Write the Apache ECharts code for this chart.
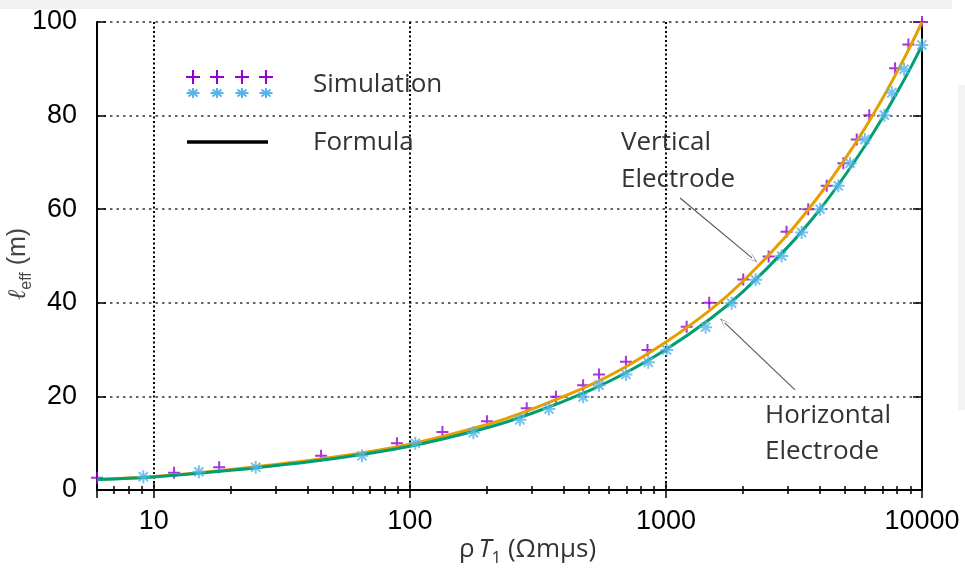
<!DOCTYPE html>
<html>
<head>
<meta charset="utf-8">
<script src="https://cdn.jsdelivr.net/npm/echarts@6/dist/echarts.min.js"></script>
<style>
  html, body { margin: 0; padding: 0; background: #ffffff; }
  #chart { width: 965px; height: 572px; }
</style>
</head>
<body>
<div id="chart"></div>
<script>
// Simulated effective length, vertical electrode (ρT1 in Ωmμs, ℓeff in m)
const verticalSimX = [6, 12, 18, 45, 89, 134, 200, 286, 372, 475, 548, 698, 847, 1205, 1476, 2004, 2518, 2958, 3595, 4245, 4930, 5560, 6225, 7850, 8850, 10000];
const verticalSimY = [2.6, 3.7, 4.85, 7.3, 10, 12.4, 14.7, 17.45, 19.9, 22.4, 24.7, 27.4, 29.9, 34.9, 40, 45, 49.9, 55.2, 60, 65, 69.8, 74.9, 80.1, 90.1, 95.2, 100];

// Simulated effective length, horizontal electrode
const horizontalSimX = [9.1, 15, 25, 65, 105, 177, 269, 349, 475, 548, 698, 853, 1007, 1429, 1806, 2240, 2831, 3390, 4000, 4710, 5240, 5985, 7130, 7625, 8510, 9980];
const horizontalSimY = [2.85, 3.9, 4.85, 7.3, 10, 12.25, 15, 17.3, 19.9, 22.4, 24.7, 27.3, 29.9, 34.8, 39.9, 44.9, 50, 55, 60, 65, 69.8, 74.9, 80.1, 84.9, 89.9, 95.1];

// Formula curves
const formulaX = [6, 10, 20, 50, 100, 200, 300, 500, 700, 1000, 1500, 2000, 3000, 4000, 5000, 6000, 7000, 8000, 9000, 10000];
const verticalFormulaY = [2.3, 2.9, 4.4, 7.0, 9.8, 14.0, 17.3, 22.3, 26.4, 31.6, 38.6, 44.6, 54.7, 63.2, 70.7, 77.4, 83.6, 89.4, 94.8, 100];
const horizontalFormulaY = [2.25, 2.8, 4.2, 6.7, 9.35, 13.3, 16.4, 21.2, 25.1, 30.0, 36.7, 42.4, 52.0, 60.0, 67.2, 73.6, 79.5, 85.0, 90.1, 95];

// Axis ranges and tick labels
const xRange = [6, 10000];
const xTickLabels = ['10', '100', '1000', '10000'];
const yRange = [0, 100];
const yStep = 20;

// Annotation arrows (data coordinates: from label toward curve)
const verticalArrow = [[1135, 62.4], [2168, 49.6]];
const horizontalArrow = [[3192, 21.4], [1698, 35.7]];

const PURPLE = '#9400D3';
const BLUE = '#56B4E9';
const ORANGE = '#E69F00';
const GREEN = '#009E73';
const TEXT_FONT = 'Open Sans';

const plusPath = 'path://M0,6L12,6M6,0L6,12';
const starPath = 'path://M0,6L12,6M6,0L6,12M1.8,1.8L10.2,10.2M10.2,1.8L1.8,10.2';
const chevron = 'path://M0,12L5,0L10,12L5,1.6Z';

const zip = (xs, ys) => xs.map((x, i) => [x, ys[i]]);

function isDecade(v) {
  const l = Math.log10(v);
  return Math.abs(l - Math.round(l)) < 1e-6;
}

const chart = echarts.init(document.getElementById('chart'), null, { renderer: 'canvas' });

const tickLabelStyle = { fontFamily: 'Liberation Sans', fontSize: 27, color: '#000' };
const axisLineStyle = { show: true, lineStyle: { color: '#000', width: 2 } };

// Legend glyphs built from short strokes
function seg(x1, y1, x2, y2, color) {
  return { type: 'line', shape: { x1, y1, x2, y2 }, style: { stroke: color, lineWidth: 2 }, z: 100 };
}
function plusGlyph(cx, cy, r, color) {
  return [seg(cx - r, cy, cx + r, cy, color), seg(cx, cy - r, cx, cy + r, color)];
}
function starGlyph(cx, cy, rx, ry, color) {
  const d = 0.7;
  return [
    seg(cx - rx, cy, cx + rx, cy, color),
    seg(cx, cy - ry, cx, cy + ry, color),
    seg(cx - rx * d, cy - ry * d, cx + rx * d, cy + ry * d, color),
    seg(cx + rx * d, cy - ry * d, cx - rx * d, cy + ry * d, color)
  ];
}
const legendXs = [193, 217, 242, 266];
const legendItems = [];
legendXs.forEach(x => {
  legendItems.push(...plusGlyph(x, 77, 7, PURPLE));
  legendItems.push(...starGlyph(x, 93, 6.5, 5, BLUE));
});

const option = {
  animation: false,
  backgroundColor: '#ffffff',
  grid: { left: 97, right: 43, top: 22, bottom: 82, containLabel: false, outerBoundsMode: 'none' },
  xAxis: [
    {
      type: 'log', logBase: 10, min: xRange[0], max: xRange[1], position: 'bottom',
      name: '{r|ρ}{i|T}{s|1}{r| (Ωmμs)}',
      nameLocation: 'middle', nameGap: 47, nameMoveOverlap: false,
      nameTextStyle: {
        padding: [0, 0, 0, 36],
        rich: {
          r: { fontFamily: TEXT_FONT, fontSize: 26, color: '#333' },
          i: { fontFamily: TEXT_FONT, fontSize: 26, fontStyle: 'italic', color: '#333', padding: [0, 0, 0, 4] },
          s: { fontFamily: TEXT_FONT, fontSize: 17, color: '#333', verticalAlign: 'bottom', padding: [0, 0, -4, 0] }
        }
      },
      axisLine: axisLineStyle,
      axisTick: { show: true, inside: true, length: 8, lineStyle: { color: '#000', width: 1.5 } },
      minorTick: { show: true, splitNumber: 9, length: 4, lineStyle: { color: '#000', width: 1.5 } },
      axisLabel: {
        ...tickLabelStyle, margin: 18, showMinLabel: false,
        formatter: v => {
          if (!isDecade(v)) return '';
          const s = String(Math.round(v));
          return xTickLabels.includes(s) ? s : '';
        }
      },
      splitLine: { show: true, lineStyle: { color: '#000', width: 2, type: [2, 2.5] } }
    },
    {
      type: 'log', logBase: 10, min: xRange[0], max: xRange[1], position: 'top',
      axisLine: axisLineStyle,
      axisTick: { show: true, inside: true, length: 8, lineStyle: { color: '#000', width: 1.5 } },
      minorTick: { show: true, splitNumber: 9, length: 4, lineStyle: { color: '#000', width: 1.5 } },
      axisLabel: { show: false },
      splitLine: { show: false }
    }
  ],
  yAxis: [
    {
      type: 'value', min: yRange[0], max: yRange[1], interval: yStep, position: 'left',
      name: '{l|ℓ}{s|eff}{n| (m)}',
      nameLocation: 'middle', nameGap: 66, nameRotate: 90, nameMoveOverlap: false,
      nameTextStyle: {
        padding: [0, 16, 0, 0],
        rich: {
          l: { fontFamily: 'DejaVu Serif', fontSize: 25, fontStyle: 'italic', color: '#444' },
          s: { fontFamily: 'Liberation Sans', fontSize: 16, color: '#444', verticalAlign: 'bottom', padding: [0, 0, -4, 0] },
          n: { fontFamily: 'Liberation Sans', fontSize: 25, color: '#444' }
        }
      },
      axisLine: axisLineStyle,
      axisTick: { show: true, inside: true, length: 9, lineStyle: { color: '#000', width: 1.5 } },
      axisLabel: { ...tickLabelStyle, margin: 20 },
      splitLine: { show: true, lineStyle: { color: '#333', width: 1.6, type: [2.5, 4] } }
    },
    {
      type: 'value', min: yRange[0], max: yRange[1], interval: yStep, position: 'right',
      axisLine: axisLineStyle,
      axisTick: { show: true, inside: true, length: 9, lineStyle: { color: '#000', width: 1.5 } },
      axisLabel: { show: false },
      splitLine: { show: false }
    }
  ],
  series: [
    {
      name: 'Simulation (vertical)', type: 'scatter', xAxisIndex: 0, yAxisIndex: 0, z: 2,
      data: zip(verticalSimX, verticalSimY),
      symbol: plusPath, symbolSize: 12,
      itemStyle: { color: PURPLE, borderColor: PURPLE, borderWidth: 2 },
      clip: false
    },
    {
      name: 'Formula (vertical)', type: 'line', xAxisIndex: 0, yAxisIndex: 0, z: 3,
      data: zip(formulaX, verticalFormulaY),
      showSymbol: false, smooth: 0.3,
      lineStyle: { color: ORANGE, width: 3 },
      markLine: {
        silent: true, animation: false,
        symbol: ['none', chevron], symbolSize: [9, 13],
        label: { show: false },
        lineStyle: { color: '#555', width: 1.1, type: 'solid' },
        data: [
          [{ coord: verticalArrow[0] }, { coord: verticalArrow[1] }],
          [{ coord: horizontalArrow[0] }, { coord: horizontalArrow[1] }]
        ]
      }
    },
    {
      name: 'Formula (horizontal)', type: 'line', xAxisIndex: 0, yAxisIndex: 0, z: 4,
      data: zip(formulaX, horizontalFormulaY),
      showSymbol: false, smooth: 0.3,
      lineStyle: { color: GREEN, width: 3 }
    },
    {
      name: 'Simulation (horizontal)', type: 'scatter', xAxisIndex: 0, yAxisIndex: 0, z: 5,
      data: zip(horizontalSimX, horizontalSimY),
      symbol: starPath, symbolSize: 13,
      itemStyle: { color: BLUE, borderColor: BLUE, borderWidth: 2 },
      clip: false
    }
  ],
  graphic: [
    { type: 'rect', shape: { x: 0, y: 0, width: 952, height: 9 }, style: { fill: '#f1f1f1' }, z: -10 },
    { type: 'rect', shape: { x: 958, y: 85, width: 7, height: 325 }, style: { fill: '#f3f3f3' }, z: -10 },
    ...legendItems,
    { type: 'line', shape: { x1: 187, y1: 142, x2: 268, y2: 142 }, style: { stroke: '#000', lineWidth: 3.5 }, z: 100 },
    { type: 'text', x: 313, y: 85, style: { text: 'Simulation', font: '26px "Open Sans"', fill: '#333', textVerticalAlign: 'middle' }, z: 100 },
    { type: 'text', x: 313, y: 143, style: { text: 'Formula', font: '26px "Open Sans"', fill: '#333', textVerticalAlign: 'middle' }, z: 100 },
    { type: 'text', x: 621, y: 124, style: { text: 'Vertical\nElectrode', font: '26px "Open Sans"', lineHeight: 37, fill: '#333', textVerticalAlign: 'top' }, z: 100 },
    { type: 'text', x: 765, y: 398, style: { text: 'Horizontal\nElectrode', font: '26px "Open Sans"', lineHeight: 36, fill: '#333', textVerticalAlign: 'top' }, z: 100 }
  ]
};

chart.setOption(option);
</script>
</body>
</html>
